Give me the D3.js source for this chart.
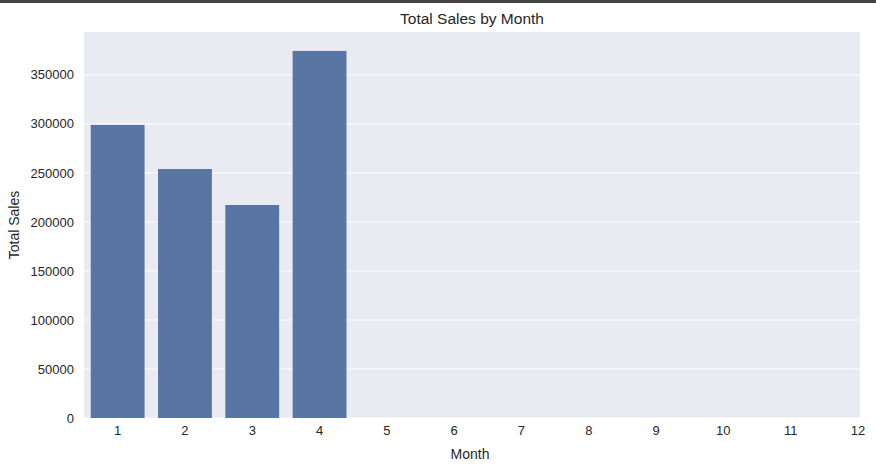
<!DOCTYPE html>
<html><head><meta charset="utf-8">
<script src="https://cdn.jsdelivr.net/npm/d3@7"></script>
<style>body{margin:0;background:#fff;font-family:"Liberation Sans",Arial,sans-serif}</style>
</head><body>
<script>
const months = ["1","2","3","4","5","6","7","8","9","10","11","12"]
const totalSales = [299000, 254000, 217300, 374500, 0, 0, 0, 0, 0, 0, 0, 0]
const yTicks = [0, 50000, 100000, 150000, 200000, 250000, 300000, 350000]

const w = 876, h = 467
const mLeft = 84, mRight = 860, mTop = 32, mBottom = 418

const svg = d3.select('body').append('svg').attr('width', w).attr('height', h)

svg.append('rect').attr('x', 0).attr('y', 0).attr('width', w).attr('height', 3).attr('fill', '#444')

svg.append('rect').attr('x', mLeft).attr('y', mTop).attr('width', mRight - mLeft).attr('height', mBottom - mTop)
    .attr('fill', '#eaeaf2')

const step = 67.3
const x = d3.scaleBand().domain(months).range([mLeft, mLeft + step * 12]).paddingInner(0.2).paddingOuter(0.1)
const y = d3.scaleLinear().domain([0, 393800]).range([mBottom, mTop])

svg.selectAll('.grid').data(yTicks).enter().append('line')
    .attr('x1', mLeft).attr('x2', mRight)
    .attr('y1', d => y(d)).attr('y2', d => y(d))
    .attr('stroke', '#fff').attr('stroke-width', 1)

svg.append('defs').append('clipPath').attr('id', 'clip')
    .append('rect').attr('x', mLeft).attr('y', mTop).attr('width', mRight - mLeft).attr('height', mBottom - mTop)

svg.append('g').attr('clip-path', 'url(#clip)')
    .selectAll('rect').data(months).enter().append('rect')
    .attr('x', (d) => x(d))
    .attr('width', x.bandwidth())
    .attr('y', (d, i) => y(totalSales[i]))
    .attr('height', (d, i) => mBottom - y(totalSales[i]))
    .attr('fill', '#5975a4')

svg.selectAll('.yl').data(yTicks).enter().append('text')
    .attr('x', mLeft - 10).attr('y', d => y(d)).attr('dy', '0.35em')
    .attr('text-anchor', 'end').attr('font-size', 13).attr('fill', '#262626')
    .text(d => d)

svg.selectAll('.xl').data(months).enter().append('text')
    .attr('x', d => x(d) + x.bandwidth() / 2).attr('y', mBottom + 17)
    .attr('text-anchor', 'middle').attr('font-size', 13).attr('fill', '#262626')
    .text(d => d)

svg.append('text').attr('x', (mLeft + mRight) / 2).attr('y', 24)
    .attr('text-anchor', 'middle').attr('font-size', 15.5).attr('fill', '#262626')
    .text('Total Sales by Month')

svg.append('text').attr('x', 470).attr('y', 459)
    .attr('text-anchor', 'middle').attr('font-size', 14).attr('fill', '#262626')
    .text('Month')

svg.append('text').attr('transform', `translate(19, ${(mTop + mBottom) / 2}) rotate(-90)`)
    .attr('text-anchor', 'middle').attr('font-size', 14).attr('fill', '#262626')
    .text('Total Sales')
</script>
</body></html>
